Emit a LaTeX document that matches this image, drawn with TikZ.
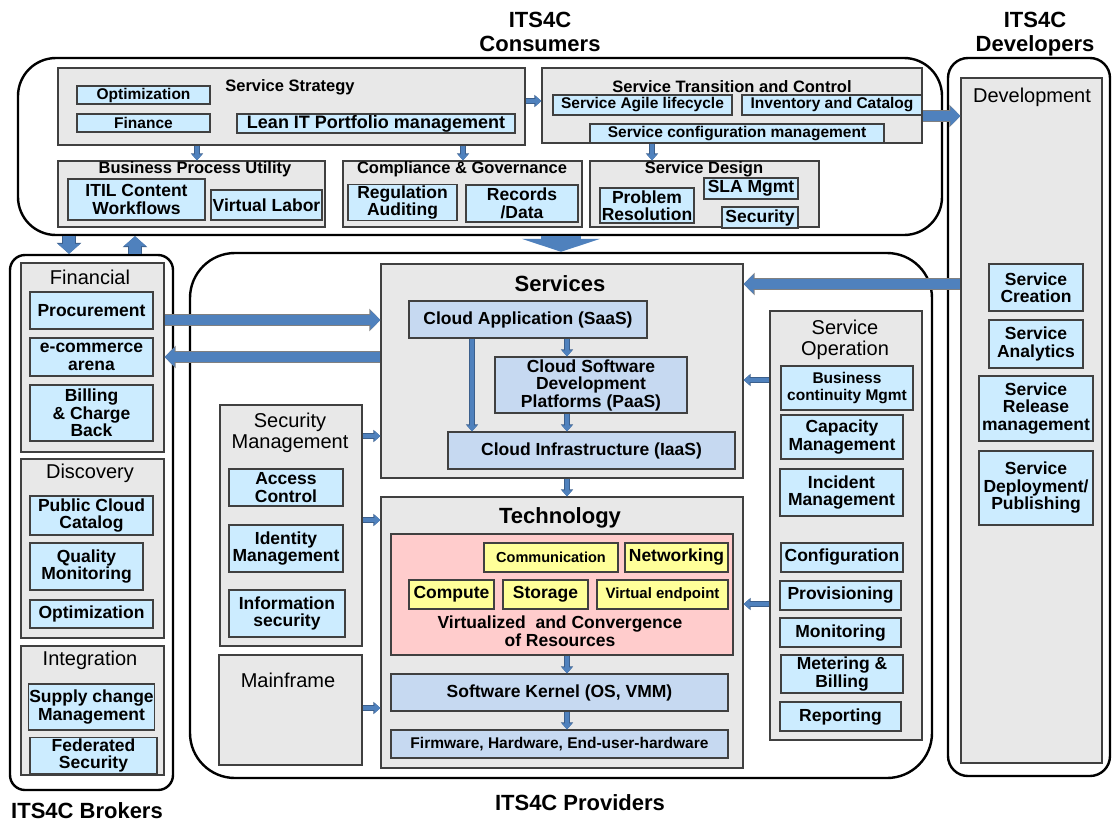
\documentclass[tikz,border=0pt]{standalone}
\usepackage{fontspec}
\setmainfont{Liberation Sans}
\usetikzlibrary{arrows.meta}
\definecolor{lblue}{HTML}{CCECFF}
\definecolor{sblue}{HTML}{C6D9F1}
\definecolor{grpf}{HTML}{E8E8E8}
\definecolor{pinkf}{HTML}{FFCCCC}
\definecolor{yell}{HTML}{FFFF99}
\definecolor{arrb}{HTML}{4F81BD}
\definecolor{arrd}{HTML}{3B5F8C}
\definecolor{edge}{HTML}{404040}
\newcommand{\mybox}[7]{\node[#1, minimum width={(#5)-(#3)}, minimum height={(#6)-(#4)}] (#2) at ({((#3)+(#5))/2},{((#4)+(#6))/2}) {#7};}
\begin{document}
\begin{tikzpicture}[x=1pt,y=-1pt,
  outer/.style={draw=black, line width=2.4pt, inner sep=0pt},
  grpbox/.style={draw=edge, fill=grpf, line width=1.2pt, inner sep=0pt},
  lb/.style={draw=edge, fill=lblue, line width=1.2pt, inner sep=1pt, align=center},
  sb/.style={draw=edge, fill=sblue, line width=1.2pt, inner sep=1pt, align=center},
  yb/.style={draw=edge, fill=yell, line width=1.2pt, inner sep=1pt, align=center},
  pb/.style={draw=edge, fill=pinkf, line width=1.2pt, inner sep=0pt},
  fs/.style={font=\bfseries\fontsize{15.5}{16.5}\selectfont},
  fm/.style={font=\bfseries\fontsize{17.5}{17.5}\selectfont},
  fl/.style={font=\bfseries\fontsize{18}{19}\selectfont},
  ttl/.style={font=\bfseries\fontsize{16.5}{17}\selectfont, inner sep=0pt},
  gttl/.style={font=\fontsize{20}{20.5}\selectfont, align=center, inner sep=0pt},
  bigt/.style={font=\bfseries\fontsize{22}{24}\selectfont, align=center, inner sep=0pt},
  arrS/.style={draw=arrb, line width=4pt, -{Triangle[length=6pt,width=10pt]},
     preaction={draw=arrd, line width=5.5pt, -{Triangle[length=7pt,width=12pt]}}},
  arrM/.style={draw=arrb, line width=10pt, -{Triangle[length=10pt,width=19pt]},
     preaction={draw=gray, line width=12pt, -{Triangle[length=11pt,width=22pt]}}},
  arrB/.style={draw=arrb, line width=12pt, -{Triangle[length=10pt,width=22pt]},
     preaction={draw=arrd, line width=13.5pt, -{Triangle[length=11pt,width=24pt]}}},
  arrBig/.style={draw=arrb, line width=40pt, -{Triangle[length=13pt,width=78pt]}},
]
\useasboundingbox (0,0) rectangle (1113,823);
\fill[white] (0,0) rectangle (1113,823);

% ---------- outer frames ----------
\mybox{outer, rounded corners=38pt}{cons}{18}{58}{942}{235}{}
\mybox{outer, rounded corners=20pt}{devs}{948}{58}{1110}{776}{}
\mybox{outer, rounded corners=15pt}{brok}{10}{255}{173}{790}{}
\mybox{outer, rounded corners=45pt}{prov}{190}{253}{932}{778}{}

% ---------- titles ----------
\node[bigt] (tcons) at (540,32) {ITS4C\\Consumers};
\node[bigt] (tdevs) at (1035,34) {ITS4C\\Developers};
\node[bigt] (tbrok) at (87,811) {ITS4C Brokers};
\node[bigt] (tprov) at (580,803) {ITS4C Providers};

% ---------- Consumers ----------
\mybox{grpbox}{strat}{58}{68}{525}{145}{}
\node[ttl] (stratT) at (290,87) {Service Strategy};
\mybox{lb,fs}{optim}{77}{86}{210}{104}{Optimization}
\mybox{lb,fs}{fin}{77}{114}{210}{132}{Finance}
\mybox{lb,fl}{lean}{237}{114}{515}{133}{Lean IT Portfolio management}

\mybox{grpbox}{trans}{542}{68}{922}{143}{}
\node[ttl] (transT) at (732,87) {Service Transition and Control};
\mybox{lb,fs}{agile}{553}{95}{732}{115}{Service Agile lifecycle}
\mybox{lb,fs}{inv}{742}{95}{922}{115}{Inventory and Catalog}
\mybox{lb,fs}{scm}{590}{124}{884}{143}{Service configuration management}

\mybox{grpbox}{bpu}{58}{161}{325}{227}{}
\node[ttl] (bpuT) at (195,169) {Business Process Utility};
\mybox{lb,fm}{itil}{68}{179}{205}{220}{ITIL Content\\Workflows}
\mybox{lb,fm}{vlab}{211}{190}{322}{220}{Virtual Labor}

\mybox{grpbox}{cg}{343}{161}{582}{227}{}
\node[ttl] (cgT) at (462,169) {Compliance \& Governance};
\mybox{lb,fm}{reg}{348}{185}{457}{220}{Regulation\\Auditing}
\mybox{lb,fm}{rec}{466}{185}{578}{222}{Records\\/Data}

\mybox{grpbox}{design}{590}{161}{819}{227}{}
\node[ttl] (designT) at (704,169) {Service Design};
\mybox{lb,fm}{prob}{600}{188}{694}{223}{Problem\\Resolution}
\mybox{lb,fm}{sla}{704}{178}{798}{199}{SLA Mgmt}
\mybox{lb,fm}{secd}{722}{207}{798}{228}{Security}

% ---------- Developers ----------
\mybox{grpbox}{dev}{961}{78}{1102}{763}{}
\node[gttl] (devT) at (1032,97) {Development};
\mybox{lb,fm}{screate}{989}{264}{1083}{311}{Service\\Creation}
\mybox{lb,fm}{sanal}{989}{320}{1083}{368}{Service\\Analytics}
\mybox{lb,fm}{srel}{979}{376}{1093}{441}{Service\\Release\\management}
\mybox{lb,fm}{sdep}{979}{451}{1093}{525}{Service\\Deployment/\\Publishing}

% ---------- Brokers ----------
\mybox{grpbox}{finl}{21}{263}{164}{452}{}
\node[gttl] (finlT) at (90,277) {Financial};
\mybox{lb,fm}{procu}{30}{292}{153}{329}{Procurement}
\mybox{lb,fm}{ecom}{30}{338}{153}{376}{e-commerce\\arena}
\mybox{lb,fm}{bill}{30}{385}{153}{441}{Billing\\\& Charge\\Back}

\mybox{grpbox}{disc}{21}{459}{164}{638}{}
\node[gttl] (discT) at (90,473) {Discovery};
\mybox{lb,fm}{pcc}{30}{496}{153}{535}{Public Cloud\\Catalog}
\mybox{lb,fm}{qmon}{30}{543}{143}{590}{Quality\\Monitoring}
\mybox{lb,fm}{optb}{30}{600}{153}{628}{Optimization}

\mybox{grpbox}{integ}{21}{646}{164}{775}{}
\node[gttl] (integT) at (90,660) {Integration};
\mybox{lb,fm}{supply}{30}{684}{153}{730}{Supply change\\Management}
\mybox{lb,fm}{fed}{30}{740}{157}{771}{Federated\\Security}

% ---------- Providers ----------
\mybox{grpbox}{services}{381}{264}{743}{478}{}
\node[bigt] (servT) at (560,284) {Services};
\mybox{sb,fm}{saas}{409}{301}{647}{338}{Cloud Application (SaaS)}
\mybox{sb,fm}{paas}{495}{357}{687}{413}{Cloud Software\\Development\\Platforms (PaaS)}
\mybox{sb,fm}{iaas}{448}{432}{735}{469}{Cloud Infrastructure (IaaS)}

\mybox{grpbox}{tech}{381}{497}{743}{768}{}
\node[bigt] (techT) at (560,518) {Technology};
\mybox{pb}{pink}{391}{534}{733}{655}{}
\mybox{yb,font=\bfseries\fontsize{14.5}{15}\selectfont}{comm}{484}{543}{618}{572}{Communication}
\mybox{yb,fm}{netw}{625}{543}{728}{572}{Networking}
\mybox{yb,fm}{comp}{409}{580}{494}{609}{Compute}
\mybox{yb,fm}{stor}{503}{580}{588}{609}{Storage}
\mybox{yb,font=\bfseries\fontsize{15}{15.5}\selectfont}{vend}{597}{580}{728}{609}{Virtual endpoint}
\node[fm, align=center, inner sep=0pt] (virt) at (560,631) {Virtualized\ \ and Convergence\\of Resources};
\mybox{sb,fm}{kernel}{391}{674}{728}{711}{Software Kernel (OS, VMM)}
\mybox{sb,fs}{firm}{391}{730}{728}{758}{Firmware, Hardware, End-user-hardware}

\mybox{grpbox}{secm}{220}{405}{362}{646}{}
\node[gttl] (secmT) at (290,433) {Security\\Management};
\mybox{lb,fm}{access}{229}{469}{343}{506}{Access\\Control}
\mybox{lb,fm}{ident}{229}{525}{343}{572}{Identity\\Management}
\mybox{lb,fm}{info}{229}{590}{345}{637}{Information\\security}

\mybox{grpbox}{mainf}{219}{655}{362}{765}{}
\node[gttl] (mainfT) at (288,680) {Mainframe};

\mybox{grpbox}{sop}{770}{311}{922}{740}{}
\node[gttl] (sopT) at (845,340) {Service\\Operation};
\mybox{lb,fs}{bcm}{781}{366}{913}{410}{Business\\continuity Mgmt}
\mybox{lb,fm}{capm}{781}{415}{903}{459}{Capacity\\Management}
\mybox{lb,fm}{incm}{780}{469}{903}{516}{Incident\\Management}
\mybox{lb,fm}{conf}{781}{543}{903}{572}{Configuration}
\mybox{lb,fm}{provi}{780}{581}{901}{610}{Provisioning}
\mybox{lb,fm}{moni}{780}{618}{901}{647}{Monitoring}
\mybox{lb,fm}{meter}{781}{655}{903}{693}{Metering \&\\Billing}
\mybox{lb,fm}{repo}{780}{702}{901}{731}{Reporting}

% ---------- connectors ----------
\draw[arrS] (strat.east |- 0,101) -- (trans.west |- 0,101);
\draw[arrM] (inv.east |- 0,116) -- (dev.west |- 0,116);
\draw[arrS] (strat.south -| 197,0) -- (bpu.north -| 197,0);
\draw[arrS] (strat.south -| 463,0) -- (cg.north -| 463,0);
\draw[arrS] (scm.south -| 652,0) -- (design.north -| 652,0);
\draw[arrBig] (cons.south -| 561,0) -- (prov.north -| 561,0);
\draw[arrB] (cons.south -| 69,0) -- (brok.north -| 69,0);
\draw[arrB] (brok.north -| 135,0) -- (cons.south -| 135,0);
\draw[arrM] (finl.east |- 0,320) -- (services.west |- 0,320);
\draw[arrM] (services.west |- 0,357) -- (finl.east |- 0,357);
\draw[arrM] (dev.west |- 0,284) -- (services.east |- 0,284);
\draw[arrS] (secm.east |- 0,436) -- (services.west |- 0,436);
\draw[arrS] (secm.east |- 0,520) -- (tech.west |- 0,520);
\draw[arrS] (mainf.east |- 0,708) -- (tech.west |- 0,708);
\draw[arrS] (sop.west |- 0,380) -- (services.east |- 0,380);
\draw[arrS] (sop.west |- 0,604) -- (tech.east |- 0,604);
\draw[arrS] (services.south -| 567,0) -- (tech.north -| 567,0);
\draw[arrS] (saas.south -| 472,0) -- (iaas.north -| 472,0);
\draw[arrS] (saas.south -| 567,0) -- (paas.north -| 567,0);
\draw[arrS] (paas.south -| 567,0) -- (iaas.north -| 567,0);
\draw[arrS] (pink.south -| 567,0) -- (kernel.north -| 567,0);
\draw[arrS] (kernel.south -| 567,0) -- (firm.north -| 567,0);
\end{tikzpicture}
\end{document}
